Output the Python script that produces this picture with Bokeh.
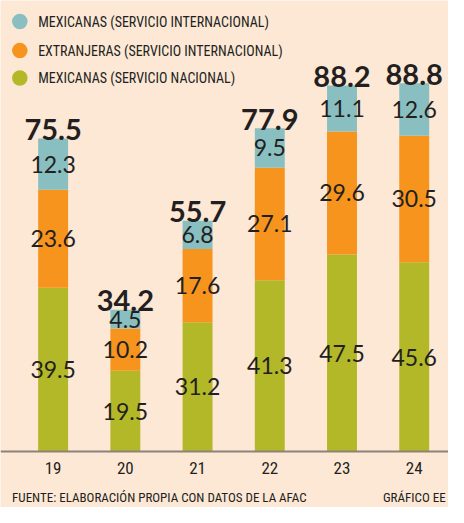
import numpy as np
from bokeh.plotting import figure
from bokeh.models import ColumnDataSource, Range1d, FixedTicker
from bokeh.core.properties import value
from bokeh.embed import file_html
from bokeh.resources import INLINE

# ---- data ----
years = ["19", "20", "21", "22", "23", "24"]
mx_nacional = [39.5, 19.5, 31.2, 41.3, 47.5, 45.6]
ext_internacional = [23.6, 10.2, 17.6, 27.1, 29.6, 30.5]
mx_internacional = [12.3, 4.5, 6.8, 9.5, 11.1, 12.6]
totals = [75.5, 34.2, 55.7, 77.9, 88.2, 88.8]
legend_labels = ["MEXICANAS (SERVICIO INTERNACIONAL)",
                 "EXTRANJERAS (SERVICIO INTERNACIONAL)",
                 "MEXICANAS (SERVICIO NACIONAL)"]
source_text = "FUENTE: ELABORACIÓN PROPIA CON DATOS DE LA AFAC"
credit_text = "GRÁFICO EE"

# ---- style ----
BG = "#FDE8D6"
C_MXI = "#89BFC1"
C_EXT = "#F7941D"
C_MXN = "#B2B827"
TXT = "#231F20"
NARROW = "Roboto Condensed"
NUMF = "Lato"

W, H = 448, 507
SX, SY = W / 464, H / 523          # reference -> figure pixel scale
BASE_PX = 465.5 * SY               # baseline pixel from top
PX_PER_UNIT_Y = (465.5 - 85) * SY / 88.8
PX_PER_CAT = 74.8 * SX
X0_PX = 54.5 * SX

x_start = -X0_PX / PX_PER_CAT
x_end = x_start + W / PX_PER_CAT
y_end = BASE_PX / PX_PER_UNIT_Y
y_start = -(H - BASE_PX) / PX_PER_UNIT_Y


def fx(ref_px):  # reference pixel x -> data x
    return x_start + ref_px * SX / PX_PER_CAT


def fy(ref_py):  # reference pixel y -> data y
    return (BASE_PX - ref_py * SY) / PX_PER_UNIT_Y


idx = list(range(len(years)))
src = ColumnDataSource(dict(x=idx, mxn=mx_nacional, ext=ext_internacional, mxi=mx_internacional))

p = figure(width=W, height=H, output_backend="svg", toolbar_location=None,
           x_range=Range1d(x_start, x_end), y_range=Range1d(y_start, y_end),
           y_axis_location=None, min_border=0)
p.background_fill_color = BG
p.border_fill_color = BG
p.outline_line_color = None
p.grid.visible = False

p.vbar_stack(["mxn", "ext", "mxi"], x="x", width=31 * SX / PX_PER_CAT, source=src,
             color=[C_MXN, C_EXT, C_MXI], line_color=None)

# segment labels
a = np.array(mx_nacional)
b = np.array(ext_internacional)
c = np.array(mx_internacional)
mids_x = idx * 3
mids_y = list(a / 2) + list(a + b / 2) + list(a + b + c / 2)
labs = [f"{v:.1f}" for v in mx_nacional + ext_internacional + mx_internacional]
p.text(x=mids_x, y=mids_y, text=labs, text_align="center", text_baseline="middle",
       text_font=value(NUMF), text_font_size="23px", text_color=TXT)

# totals
tops = list(a + b + c)
p.text(x=idx, y=tops, text=[f"{t:.1f}" for t in totals], text_align="center",
       text_baseline="alphabetic", y_offset=-9, text_font=value(NUMF),
       text_font_style="bold", text_font_size="29px", text_color=TXT)

# legend (manual)
leg_py = [21.7, 51.7, 80.0]
leg_cols = [C_MXI, C_EXT, C_MXN]
p.scatter(x=[fx(20)] * 3, y=[fy(v) for v in leg_py], size=15.5, color=leg_cols, line_color=None)
p.text(x=[fx(39)] * 3, y=[fy(v) for v in leg_py], text=legend_labels,
       text_align="left", text_baseline="middle", text_font=value(NARROW),
       text_font_size="14px", text_color=TXT)

# x axis fixed at the baseline
ax = p.xaxis[0]
ax.fixed_location = 0
ax.ticker = FixedTicker(ticks=idx)
ax.major_label_overrides = {i: y for i, y in zip(idx, years)}
ax.axis_line_color = "#8C8279"
ax.axis_line_width = 2
ax.major_tick_line_color = None
ax.minor_tick_line_color = None
ax.major_tick_out = 0
ax.major_tick_in = 0
ax.major_label_standoff = 10
ax.major_label_text_font = NARROW
ax.major_label_text_font_size = "17px"
ax.major_label_text_color = TXT

# source / credit
p.text(x=[fx(12)], y=[fy(513)], text=[source_text],
       text_align="left", text_baseline="alphabetic", text_font=value(NARROW),
       text_font_size="13px", text_color=TXT)
p.text(x=[fx(461)], y=[fy(513)], text=[credit_text],
       text_align="right", text_baseline="alphabetic", text_font=value(NARROW),
       text_font_size="13px", text_color=TXT)

open("out.html", "w").write(file_html(p, INLINE))
